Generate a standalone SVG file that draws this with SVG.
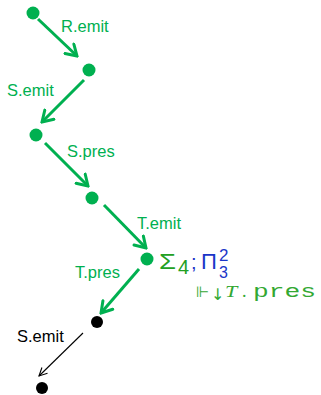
<svg xmlns="http://www.w3.org/2000/svg" width="321" height="395" viewBox="0 0 321 395">
<defs>
<marker id="ag" viewBox="0 0 14 16" refX="12" refY="8" markerWidth="14" markerHeight="16" markerUnits="userSpaceOnUse" orient="auto">
<path d="M1.5,1.5 L12,8 L1.5,14.5" fill="none" stroke="#00b050" stroke-width="3" stroke-linecap="round" stroke-linejoin="miter"/>
</marker>
<marker id="ab" viewBox="0 0 10 10" refX="9" refY="5" markerWidth="10" markerHeight="10" markerUnits="userSpaceOnUse" orient="auto">
<path d="M1,1 L9,5 L1,9" fill="none" stroke="#000" stroke-width="1.1"/>
</marker>
</defs>
<style>
.g{fill:#00b050}
.k{fill:#000}
.eg{stroke:#00b050;stroke-width:3;fill:none;marker-end:url(#ag)}
.ek{stroke:#000;stroke-width:1.1;fill:none;marker-end:url(#ab)}
.lbl{font-family:"Liberation Sans",Arial,sans-serif;font-size:16.5px}
.lg{fill:#00b050}
.ms{font-family:"Liberation Sans",Arial,sans-serif}
.mg{fill:#22a022}
.mb{fill:#1a35c8}
.mt{fill:#33a833}
</style>
<g id="connectors">
<line class="eg" x1="38" y1="19" x2="77" y2="56"/>
<line class="eg" x1="84" y1="80" x2="42" y2="122"/>
<line class="eg" x1="45" y1="143" x2="88" y2="186"/>
<line class="eg" x1="104" y1="205" x2="146" y2="248"/>
<line class="eg" x1="139" y1="269" x2="101" y2="313"/>
<line class="ek" x1="83" y1="333" x2="39" y2="376"/>
<text class="lbl lg" x="61" y="32">R.emit</text>
<text class="lbl lg" x="7" y="96">S.emit</text>
<text class="lbl lg" x="67" y="157">S.pres</text>
<text class="lbl lg" x="137" y="229">T.emit</text>
<text class="lbl lg" x="75" y="278">T.pres</text>
<text class="lbl" x="17" y="342" fill="#000">S.emit</text>
</g>
<g id="n1"><circle class="g" cx="33" cy="13" r="6.5"/></g>
<g id="n2"><circle class="g" cx="89" cy="70" r="6.5"/></g>
<g id="n3"><circle class="g" cx="36" cy="135" r="6.5"/></g>
<g id="n4"><circle class="g" cx="92" cy="198" r="6.5"/></g>
<g id="n5"><circle class="g" cx="147" cy="259" r="6.5"/>
<text class="ms mg" font-size="22" transform="translate(159,269) scale(1.25,1)">Σ</text>
<text class="ms mg" font-size="20" x="178" y="274">4</text>
<text class="ms mb" font-size="20" x="191" y="269">;</text>
<text class="ms mb" font-size="22" x="201" y="269">Π</text>
<text class="ms mb" font-size="17" x="219" y="261">2</text>
<text class="ms mb" font-size="16" x="219" y="278">3</text>
<text font-family="'DejaVu Sans',sans-serif" font-size="15" class="mt" x="196" y="297">⊩</text>
<text font-family="'DejaVu Sans',sans-serif" font-size="16" class="mt" x="211" y="300">↓</text>
<text font-family="'Liberation Serif',serif" font-style="italic" font-size="17" class="mt" transform="translate(225,297) scale(1.3,1)">T</text>
<text font-family="'Liberation Serif',serif" font-size="18" class="mt" x="242" y="297">.</text>
<text font-family="'Liberation Mono',monospace" font-size="19" class="mt" transform="translate(253,297) scale(1.38,1)">pres</text>
</g>
<g id="n6"><circle class="k" cx="97" cy="322" r="6"/></g>
<g id="n7"><circle class="k" cx="42" cy="388" r="6"/></g>
</svg>
